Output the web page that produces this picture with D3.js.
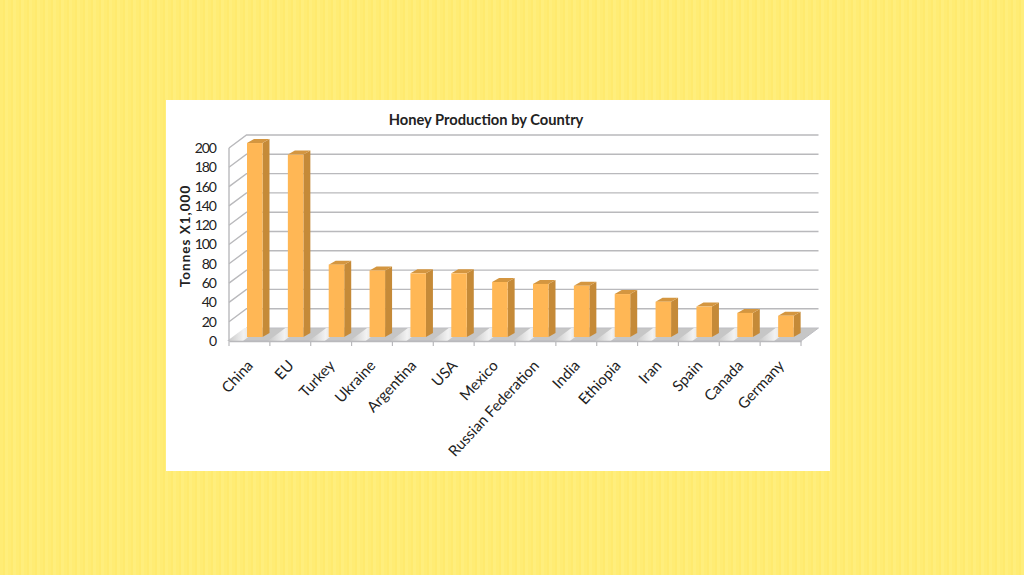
<!DOCTYPE html>
<html>
<head>
<meta charset="utf-8">
<script src="https://cdnjs.cloudflare.com/ajax/libs/d3/7.8.5/d3.min.js"></script>
<style>
html, body { margin: 0; padding: 0; width: 1024px; height: 575px; overflow: hidden; }
body { background: repeating-linear-gradient(90deg, #ffec74 0px, #ffec74 3px, #ffea6e 3px, #ffea6e 5px, #ffee7c 5px, #ffee7c 8px); }
svg { display: block; position: absolute; left: 0; top: 0; }
text { font-family: Lato, "Open Sans", sans-serif; fill: #222; }
</style>
</head>
<body>
<div id="chart"></div>
<script>
var countries = ["China", "EU", "Turkey", "Ukraine", "Argentina", "USA", "Mexico", "Russian Federation", "India", "Ethiopia", "Iran", "Spain", "Canada", "Germany"];
var tonnes = [201, 189, 75, 69, 66, 66, 57, 55, 53, 44.5, 36.5, 31.5, 25, 22];
var yTicks = [0, 20, 40, 60, 80, 100, 120, 140, 160, 180, 200];

var svg = d3.select("#chart").append("svg").attr("width", 1024).attr("height", 575);

// soft blur, the reference is a slightly fuzzy screenshot
var defs = svg.append("defs");
defs.append("filter").attr("id", "soft").append("feGaussianBlur").attr("stdDeviation", 0.45);
var floorGrad = defs.append("linearGradient").attr("id", "floorGrad")
    .attr("x1", "0").attr("x2", "1").attr("y1", "0").attr("y2", "0");
floorGrad.append("stop").attr("offset", "0%").attr("stop-color", "#c6c6c6");
floorGrad.append("stop").attr("offset", "50%").attr("stop-color", "#f2f2f2");
floorGrad.append("stop").attr("offset", "100%").attr("stop-color", "#c6c6c6");

svg.append("rect").attr("x", 166).attr("y", 100).attr("width", 664).attr("height", 371).attr("fill", "#fff");

var left = 229, right = 801, bottom = 341, top_ = 148;
var depthX = 17.5, depthY = 13;   // offset of back wall
var barW = 15.5, sideX = 7, sideY = 4;

var x = d3.scaleBand().domain(countries).range([left, right]);
var y = d3.scaleLinear().domain([0, 200]).range([bottom, top_]);

var g = svg.append("g").attr("filter", "url(#soft)");

// floor
var floorPts = [[left, bottom], [right, bottom], [right + depthX, bottom - depthY], [left + depthX, bottom - depthY]];
g.append("polygon").attr("points", floorPts.join(" ")).attr("fill", "#c6c6c6").attr("stroke", "#bdbdc2");
g.selectAll(".streak").data(countries).enter().append("polygon")
    .attr("class", "streak")
    .attr("fill", "url(#floorGrad)")
    .attr("points", function (d) {
        var a = x(d) - 2;
        return [[a, bottom], [a + 16, bottom], [a + 16 + depthX, bottom - depthY], [a + depthX, bottom - depthY]].join(" ");
    });

// grid on back wall and side wall
var wall = g.append("g").attr("fill", "none").attr("stroke", "#b9b9bc").attr("stroke-width", 1.4);
yTicks.slice(1).forEach(function (t) {
    wall.append("path").attr("d", d3.line()([[left, y(t)], [left + depthX, y(t) - depthY], [right + depthX, y(t) - depthY]]));
});
wall.append("line").attr("x1", left).attr("x2", left).attr("y1", y(200)).attr("y2", y(0));

// bars
var bars = g.selectAll(".bar").data(countries).enter().append("g").attr("class", "bar");
function bx(d) { return x(d) + 18; }
function by(i) { return y(tonnes[i]) - sideY; }
var base = bottom - sideY;

bars.append("polygon").attr("fill", "#c58a38").attr("points", function (d, i) {
    return [[bx(d) + barW, by(i)], [bx(d) + barW + sideX, by(i) - sideY], [bx(d) + barW + sideX, base - sideY], [bx(d) + barW, base]].join(" ");
});
bars.append("polygon").attr("fill", "#d4963f").attr("points", function (d, i) {
    return [[bx(d), by(i)], [bx(d) + sideX, by(i) - sideY], [bx(d) + barW + sideX, by(i) - sideY], [bx(d) + barW, by(i)]].join(" ");
});
bars.append("rect").attr("fill", "#ffb755")
    .attr("x", function (d) { return bx(d); })
    .attr("y", function (d, i) { return by(i); })
    .attr("width", barW)
    .attr("height", function (d, i) { return base - by(i); });

// axes
var axisY = d3.axisLeft(y).tickValues(yTicks).tickSize(0).tickPadding(13);
var gy = svg.append("g").attr("transform", "translate(" + left + ",0)").call(axisY);
gy.select(".domain").remove();
gy.selectAll("text").style("font-size", "14px").style("letter-spacing", "-1px");

var axisX = d3.axisBottom(x).tickSize(0).tickPadding(0);
var gx = svg.append("g").attr("transform", "translate(0," + bottom + ")").call(axisX);
gx.select(".domain").attr("stroke", "#b9b9bc").attr("stroke-width", 1.4);
gx.selectAll("text")
    .style("font-size", "15px")
    .attr("text-anchor", "end")
    .attr("transform", "translate(1,22) rotate(-47)")
    .attr("dy", "0.32em");

// tick marks below the floor, on the band edges
var edges = countries.map(function (c) { return x(c); }).concat([right]);
g.selectAll(".xtick").data(edges).enter().append("line").attr("class", "xtick")
    .attr("x1", function (d) { return d; }).attr("x2", function (d) { return d; })
    .attr("y1", bottom).attr("y2", bottom + 5)
    .attr("stroke", "#b9b9bc").attr("stroke-width", 1.2);

// titles
svg.append("text").attr("x", 486).attr("y", 125).attr("text-anchor", "middle")
    .style("font-size", "14.7px").style("font-weight", "bold").text("Honey Production by Country");
svg.append("text").attr("transform", "translate(190,236) rotate(-90)").attr("text-anchor", "middle")
    .style("font-size", "13.5px").style("font-weight", "bold").style("letter-spacing", "1px").text("Tonnes X1,000");
</script>
</body>
</html>
